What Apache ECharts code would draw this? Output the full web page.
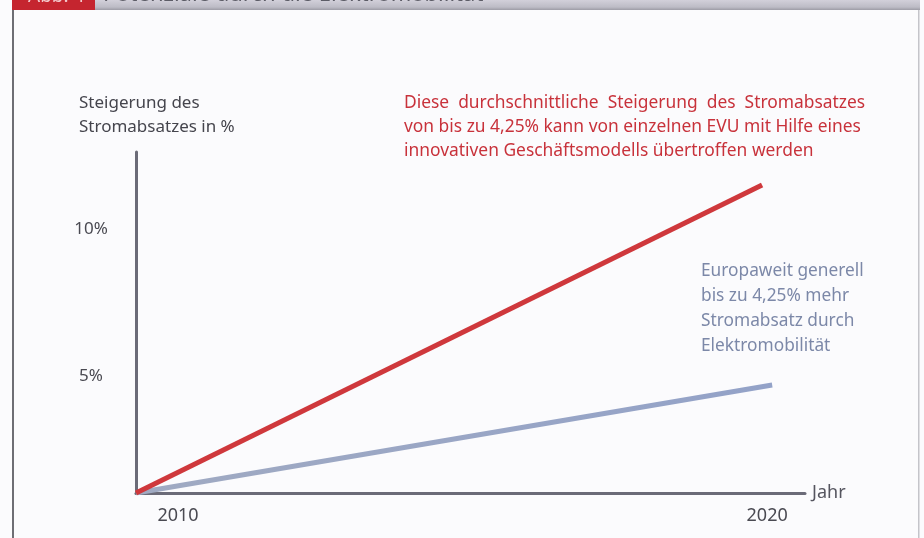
<!DOCTYPE html>
<html>
<head>
<meta charset="utf-8">
<script src="https://cdn.jsdelivr.net/npm/echarts@6/dist/echarts.min.js"></script>
<style>
html,body{margin:0;padding:0;background:#fbfbfd;}
#c{width:924px;height:538px;}
</style>
</head>
<body>
<div id="c"></div>
<script>
// Data
const years = [2010, 2020];
const yearLabels = ['2010', '2020'];
const redSeries = [[2010, 0], [2019.92, 12.13]];
const blueSeries = [[2010, 0], [2020.08, 4.25]];
const yTickValues = [5, 10];
const yTickLabels = ['5%', '10%'];
const headerTitle = 'Potenziale durch die Elektromobilität';
const headerTag = 'Abb. 4';
const yAxisTitle = 'Steigerung des\nStromabsatzes in %';
const xAxisTitle = 'Jahr';
const redNote = 'Diese  durchschnittliche  Steigerung  des  Stromabsatzes\nvon bis zu 4,25% kann von einzelnen EVU mit Hilfe eines\ninnovativen Geschäftsmodells übertroffen werden';
const blueNote = 'Europaweit generell\nbis zu 4,25% mehr\nStromabsatz durch\nElektromobilität';

const FONT = '"Noto Sans", "Open Sans", sans-serif';
const chart = echarts.init(document.getElementById('c'), null, {renderer: 'canvas'});

chart.setOption({
  backgroundColor: '#fbfbfd',
  animation: false,
  grid: {left: 136, right: 119, top: 152, bottom: 45, containLabel: false},
  xAxis: {
    type: 'value', min: 2010, max: 2020.6,
    name: xAxisTitle, nameLocation: 'end', nameGap: 7,
    nameTextStyle: {color: '#55555f', fontSize: 18, fontFamily: FONT},
    axisLine: {show: true, lineStyle: {color: '#6b6b78', width: 3}},
    axisTick: {show: false},
    splitLine: {show: false},
    axisLabel: {
      customValues: years, margin: 14,
      color: '#4a4a52', fontSize: 18, fontFamily: FONT,
      formatter: function (v) {
        const i = years.indexOf(Math.round(v));
        const t = i >= 0 ? yearLabels[i] : '';
        return i === 0 ? '{a|' + t + '}' : '{b|' + t + '}';
      },
      rich: {
        a: {padding: [0, 0, 0, 84], color: '#4a4a52', fontSize: 18, fontFamily: FONT},
        b: {color: '#4a4a52', fontSize: 18, fontFamily: FONT}
      }
    }
  },
  yAxis: {
    type: 'value', min: 0, max: 13.43,
    axisLine: {show: true, lineStyle: {color: '#6b6b78', width: 3}},
    axisTick: {show: false},
    splitLine: {show: false},
    axisLabel: {
      customValues: yTickValues, margin: 45, align: 'center',
      color: '#4a4a52', fontSize: 17, fontFamily: FONT,
      formatter: function (v) {
        const i = yTickValues.indexOf(Math.round(v));
        const t = i >= 0 ? yTickLabels[i] : '';
        return i === 1 ? '{up|' + t + '}' : '{dn|' + t + '}';
      },
      rich: {
        up: {padding: [0, 0, 20, 0], color: '#4a4a52', fontSize: 17, fontFamily: FONT},
        dn: {padding: [20, 0, 0, 0], color: '#4a4a52', fontSize: 17, fontFamily: FONT}
      }
    }
  },
  series: [
    {
      type: 'line', data: blueSeries, symbol: 'none', z: 2,
      lineStyle: {width: 5, color: {type: 'linear', x: 0, y: 0, x2: 1, y2: 0,
        colorStops: [{offset: 0, color: '#a0aac2'}, {offset: 1, color: '#93a2c8'}]}}
    },
    {
      type: 'line', data: redSeries, symbol: 'none', z: 3,
      lineStyle: {width: 5, color: '#cf383c'}
    }
  ],
  graphic: [
    // header bar
    {type: 'rect', shape: {x: 95, y: 0, width: 825, height: 10},
      style: {fill: {type: 'linear', x: 0, y: 0, x2: 0, y2: 1,
        colorStops: [{offset: 0, color: '#d2d0da'}, {offset: 0.7, color: '#bdbcc6'}, {offset: 1, color: '#9d9ca6'}]}}, z: 10},
    {type: 'rect', shape: {x: 12, y: 0, width: 83, height: 10}, style: {fill: '#c5252f'}, z: 11},
    {type: 'text', left: 28, top: -13, z: 12,
      style: {text: headerTag, fill: '#f3c9cc', font: '19px ' + FONT}},
    {type: 'text', left: 103, top: -16, z: 12,
      style: {text: headerTitle, fill: '#5c5c66', font: '22px ' + FONT}},
    // frame borders
    {type: 'rect', shape: {x: 12, y: 10, width: 2, height: 528}, style: {fill: '#6e6e74'}, z: 10},
    {type: 'rect', shape: {x: 918, y: 10, width: 1.5, height: 528}, style: {fill: '#c4c4ca'}, z: 10},
    // axis title
    {type: 'text', left: 79, top: 91, z: 10,
      style: {text: yAxisTitle, fill: '#45454d', font: '17px ' + FONT, lineHeight: 24}},
    // annotations
    {type: 'text', left: 404, top: 91, z: 10,
      style: {text: redNote, fill: '#c8323b', font: '17.4px ' + FONT, lineHeight: 24}},
    {type: 'text', left: 701, top: 259, z: 10,
      style: {text: blueNote, fill: '#7c88a8', font: '17.3px ' + FONT, lineHeight: 25}}
  ]
});
</script>
</body>
</html>
